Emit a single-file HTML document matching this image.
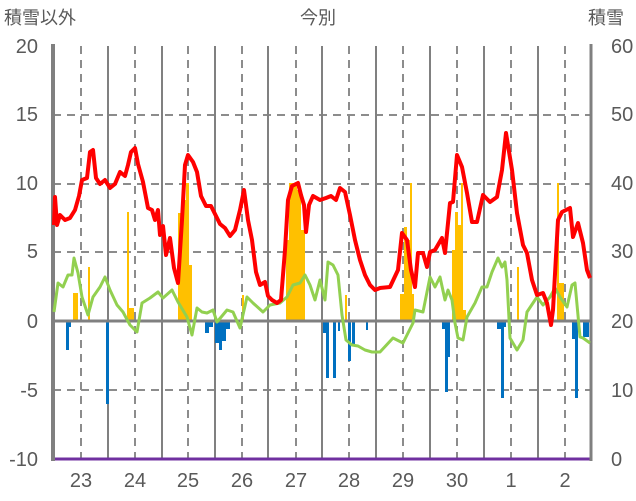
<!DOCTYPE html><html><head><style>body{margin:0;background:#fff}svg{display:block}text{font-family:"Liberation Sans","Noto Sans CJK JP",sans-serif;fill:#595959}</style></head><body>
<svg width="636" height="501" viewBox="0 0 636 501">
<g font-size="18" fill="#595959">
<text x="4" y="24" style="font-family:'Noto Sans CJK JP',sans-serif">積雪以外</text>
<text x="318" y="24" text-anchor="middle" style="font-family:'Noto Sans CJK JP',sans-serif">今別</text>
<text x="588" y="24" style="font-family:'Noto Sans CJK JP',sans-serif">積雪</text>
</g>
<g font-size="20" text-anchor="end">
<text x="38" y="53">20</text><text x="38" y="121">15</text><text x="38" y="190">10</text><text x="38" y="258">5</text><text x="38" y="328">0</text><text x="38" y="397">-5</text><text x="38" y="466">-10</text>
</g>
<g font-size="20">
<text x="611" y="53">60</text><text x="611" y="121">50</text><text x="611" y="190">40</text><text x="611" y="258">30</text><text x="611" y="328">20</text><text x="611" y="397">10</text><text x="611" y="466">0</text>
</g>
<g font-size="20" text-anchor="middle">
<text x="81" y="487">23</text><text x="135" y="487">24</text><text x="188" y="487">25</text><text x="242" y="487">26</text><text x="296" y="487">27</text><text x="349" y="487">28</text><text x="403" y="487">29</text><text x="457" y="487">30</text><text x="511" y="487">1</text><text x="565" y="487">2</text>
</g>
<g stroke="#8c8c8c" stroke-width="2" stroke-dasharray="8,6">
<line x1="53" y1="115" x2="591" y2="115"/><line x1="53" y1="184" x2="591" y2="184"/><line x1="53" y1="252" x2="591" y2="252"/><line x1="53" y1="390" x2="591" y2="390"/>
<line x1="81" y1="46" x2="81" y2="459"/><line x1="135" y1="46" x2="135" y2="459"/><line x1="188" y1="46" x2="188" y2="459"/><line x1="242" y1="46" x2="242" y2="459"/><line x1="296" y1="46" x2="296" y2="459"/><line x1="349" y1="46" x2="349" y2="459"/><line x1="403" y1="46" x2="403" y2="459"/><line x1="457" y1="46" x2="457" y2="459"/><line x1="511" y1="46" x2="511" y2="459"/><line x1="565" y1="46" x2="565" y2="459"/>
</g>
<g stroke="#808080" stroke-width="2">
<line x1="108" y1="46" x2="108" y2="459"/><line x1="162" y1="46" x2="162" y2="459"/><line x1="215" y1="46" x2="215" y2="459"/><line x1="268" y1="46" x2="268" y2="459"/><line x1="322" y1="46" x2="322" y2="459"/><line x1="376" y1="46" x2="376" y2="459"/><line x1="430" y1="46" x2="430" y2="459"/><line x1="484" y1="46" x2="484" y2="459"/><line x1="538" y1="46" x2="538" y2="459"/>
</g>
<g fill="#ffc000">
<rect x="73" y="293" width="5" height="28"/><rect x="88" y="267" width="2" height="54"/>
<rect x="127" y="212" width="2" height="109"/><rect x="129" y="308" width="5" height="13"/>
<rect x="178" y="213" width="4" height="108"/><rect x="182" y="200" width="4" height="121"/><rect x="186" y="183" width="3" height="138"/><rect x="189" y="265" width="3" height="56"/>
<rect x="242" y="295" width="2" height="26"/>
<rect x="286" y="240" width="3" height="81"/><rect x="289" y="183" width="8" height="138"/><rect x="297" y="190" width="4" height="131"/><rect x="301" y="230" width="4" height="91"/>
<rect x="345" y="295" width="2" height="26"/>
<rect x="400" y="294" width="4" height="27"/><rect x="404" y="227" width="3" height="94"/><rect x="407" y="240" width="3" height="81"/><rect x="410" y="183" width="2" height="138"/><rect x="412" y="294" width="2" height="27"/>
<rect x="452" y="250" width="3" height="71"/><rect x="455" y="212" width="3" height="109"/><rect x="458" y="225" width="3" height="96"/><rect x="461" y="183" width="2" height="138"/><rect x="463" y="310" width="3" height="11"/>
<rect x="517" y="267" width="2" height="54"/><rect x="557" y="183" width="2" height="138"/><rect x="559" y="283" width="5" height="38"/>
</g>
<g fill="#0070c0">
<rect x="66" y="321" width="3" height="29"/><rect x="69" y="321" width="2" height="6"/>
<rect x="106" y="321" width="3" height="83"/>
<rect x="205" y="321" width="4" height="12"/><rect x="209" y="321" width="4" height="6"/><rect x="215" y="321" width="4" height="22"/><rect x="219" y="321" width="3" height="29"/><rect x="222" y="321" width="4" height="20"/><rect x="226" y="321" width="4" height="8"/>
<rect x="323" y="321" width="3" height="12"/><rect x="326" y="321" width="3" height="57"/><rect x="333" y="321" width="3" height="57"/><rect x="338" y="321" width="2" height="10"/>
<rect x="348" y="321" width="3" height="40"/><rect x="352" y="321" width="3" height="25"/><rect x="366" y="321" width="2" height="9"/>
<rect x="442" y="321" width="3" height="8"/><rect x="445" y="321" width="3" height="71"/><rect x="448" y="321" width="2" height="36"/>
<rect x="497" y="321" width="4" height="8"/><rect x="501" y="321" width="3" height="77"/><rect x="504" y="321" width="2" height="6"/>
<rect x="572" y="321" width="3" height="18"/><rect x="575" y="321" width="3" height="77"/><rect x="583" y="321" width="6" height="16"/>
</g>
<line x1="53" y1="321" x2="591" y2="321" stroke="#808080" stroke-width="3"/>
<line x1="53" y1="459" x2="591" y2="459" stroke="#7030a0" stroke-width="3"/>
<line x1="53" y1="44" x2="53" y2="461" stroke="#808080" stroke-width="4"/>
<line x1="591" y1="44" x2="591" y2="461" stroke="#808080" stroke-width="3"/>
<polyline fill="none" stroke="#92d050" stroke-width="3" stroke-linejoin="round" points="54,312 58,283 63,287 68,275 72,275 74,258 78,273 82,297 88,315 93,297 100,287 105,277 110,290 117,305 123,312 130,325 137,332 142,303 150,298 158,292 163,298 172,290 178,302 187,317 192,335 197,308 202,312 207,313 213,310 217,322 227,310 233,312 240,328 247,297 253,303 263,312 270,305 280,303 287,297 293,285 300,283 305,275 310,285 315,300 320,280 325,300 328,262 333,265 338,275 342,315 346,340 352,345 358,346 365,350 372,352 380,352 393,338 403,343 413,323 415,310 423,312 430,277 435,287 440,277 445,300 448,290 452,300 455,323 458,338 463,340 467,317 475,303 482,287 487,287 492,272 498,258 502,267 505,262 507,280 510,338 517,350 523,340 527,312 537,297 543,305 550,297 555,288 560,297 567,307 572,285 575,283 580,337 583,338 590,343"/>
<polyline fill="none" stroke="#ff0000" stroke-width="4" stroke-linejoin="round" points="54,225 55,197 57,225 60,215 65,220 70,218 75,210 79,196 82,180 87,178 90,152 93,150 96,178 100,184 105,180 110,188 115,184 120,172 125,176 128,165 131,152 135,148 138,164 143,182 148,208 152,210 155,220 158,210 160,235 163,226 166,255 170,238 174,268 178,283 182,220 185,165 188,155 193,162 197,172 201,196 206,206 211,206 216,216 220,224 225,228 230,236 235,230 240,210 244,190 248,220 252,240 256,272 260,285 265,282 268,296 272,300 277,303 281,300 285,250 288,200 292,186 298,183 301,195 304,205 306,232 309,205 313,196 320,200 326,198 331,196 336,200 340,188 345,192 350,215 355,240 360,260 365,275 370,285 375,290 380,288 390,287 398,270 402,233 407,240 411,270 415,287 418,253 423,253 427,267 430,252 435,250 442,238 445,253 450,203 453,202 457,155 462,167 467,193 472,222 477,222 483,195 490,202 497,197 502,170 506,133 512,170 517,213 523,245 527,253 532,280 537,295 543,293 547,303 551,325 553,310 558,220 562,212 570,208 573,237 578,223 583,243 587,270 590,278"/>
</svg>
</body></html>
